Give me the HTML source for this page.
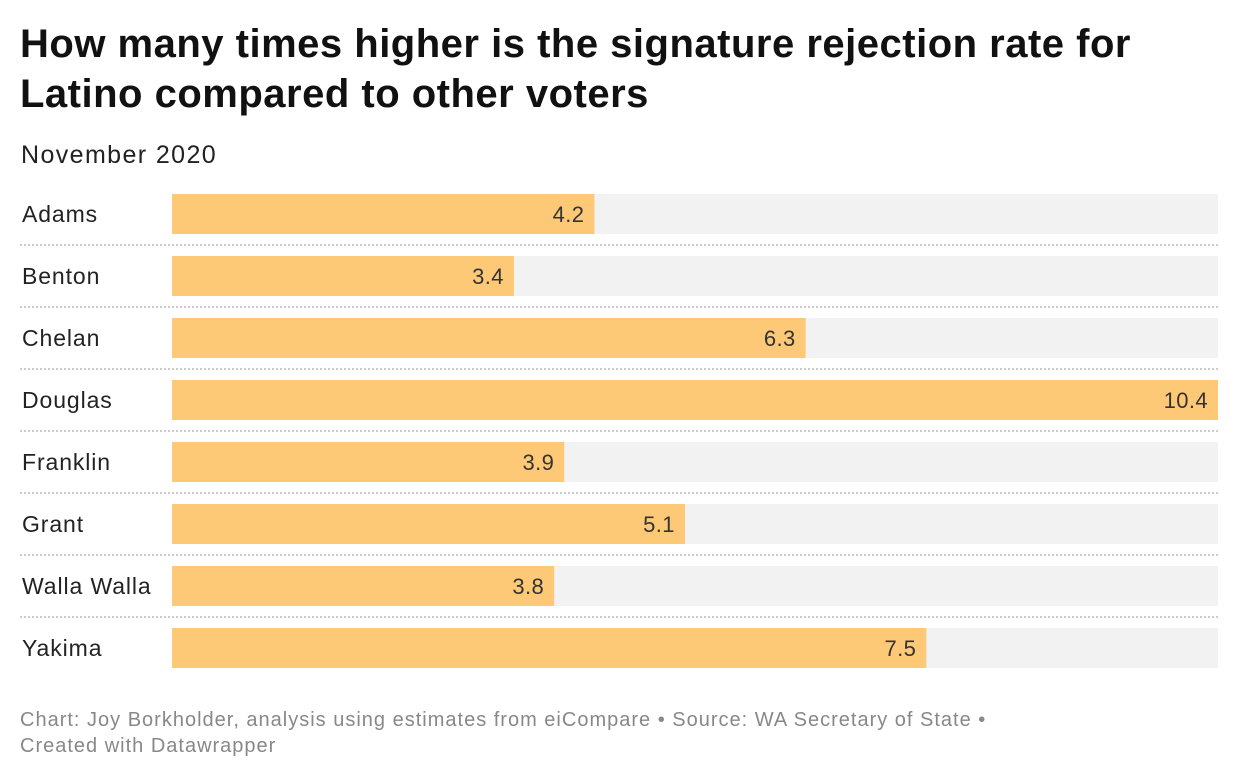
<!DOCTYPE html>
<html><head><meta charset="utf-8"><style>
body{margin:0;background:#fff;width:1240px;height:780px;overflow:hidden;font-family:"Liberation Sans",sans-serif;position:relative}
.t{position:absolute;left:20px;top:19px;font-size:40px;font-weight:bold;line-height:50px;color:#111;letter-spacing:0.5px;white-space:nowrap}
.s{position:absolute;left:21px;top:141px;font-size:25px;color:#222;letter-spacing:1.4px}
.f{position:absolute;left:20px;top:707px;font-size:20px;color:#888;line-height:26px;letter-spacing:1px;white-space:nowrap}
</style></head><body>
<div class="t">How many times higher is the signature rejection rate for<br>Latino compared to other voters</div>
<div class="s">November 2020</div>
<svg id="c" width="1240" height="780" style="position:absolute;left:0;top:0"></svg>
<div class="f">Chart: Joy Borkholder, analysis using estimates from eiCompare • Source: WA Secretary of State •<br>Created with Datawrapper</div>
<script>
const categories=["Adams","Benton","Chelan","Douglas","Franklin","Grant","Walla Walla","Yakima"];
const values=[4.2,3.4,6.3,10.4,3.9,5.1,3.8,7.5];
const labels=["4.2","3.4","6.3","10.4","3.9","5.1","3.8","7.5"];
const NS="http://www.w3.org/2000/svg";
const svg=document.getElementById('c');
const x0=172,x1=1218,maxV=10.4;
const xs=v=>x0+(x1-x0)*v/maxV;
const ys=i=>194+i*62;
function mk(t,a){const e=document.createElementNS(NS,t);for(const k in a)e.setAttribute(k,a[k]);svg.appendChild(e);return e;}
categories.forEach((c,i)=>{
  const y=ys(i);
  const bg=mk('rect',{x:x0,y:y,width:x1-x0,height:40,fill:'#f2f2f2'});
  
  
  const b=mk('rect',{x:x0,y:y,width:xs(values[i])-x0,height:40,fill:'#fec977'});
  
  
  const l=mk('text',{x:22,y:y+28,'font-size':23,fill:'#222','letter-spacing':0.9});l.textContent=c;
  
  
  const v=mk('text',{x:xs(values[i])-10,y:y+28,'font-size':22,fill:'#333','text-anchor':'end','letter-spacing':0.4});v.textContent=labels[i];
  
  
  if(i<categories.length-1){
    const s=mk('line',{x1:20,x2:1218,y1:y+51,y2:y+51,stroke:'#ccc','stroke-width':2,'stroke-dasharray':'2,2'});
    
    
  }
});
</script>
</body></html>
